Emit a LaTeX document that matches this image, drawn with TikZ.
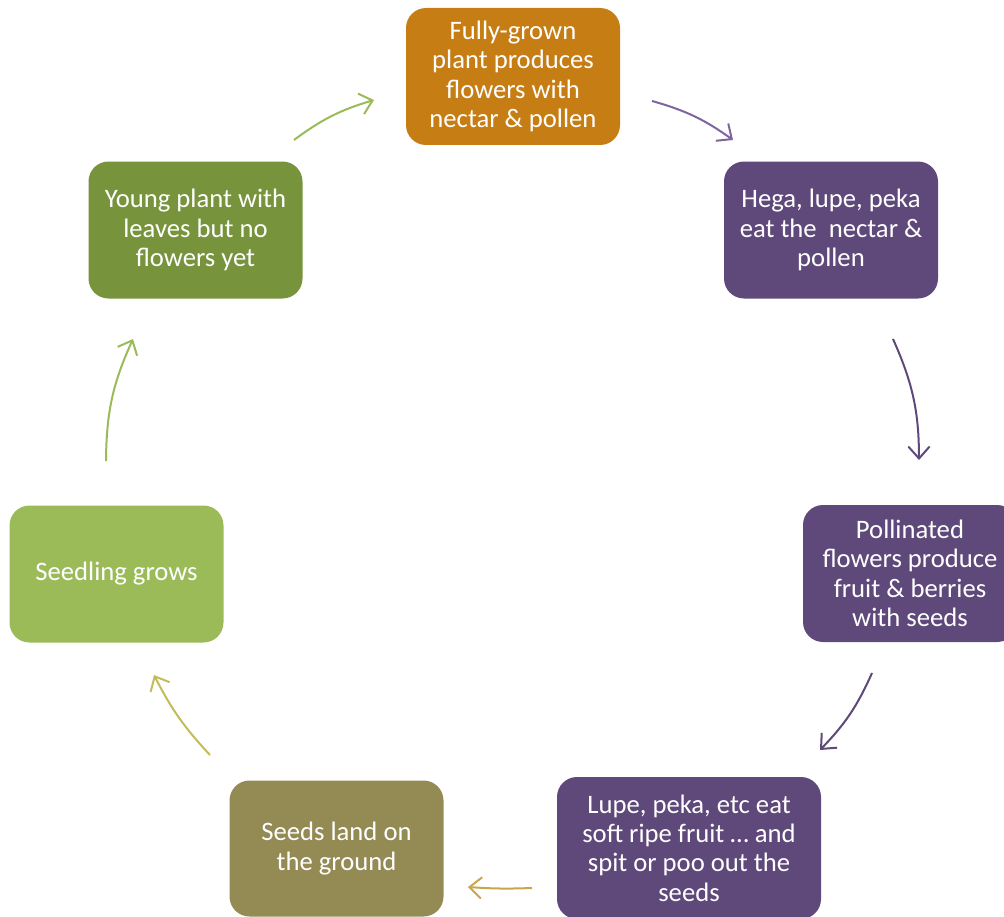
\documentclass[tikz,border=0pt]{standalone}
\usepackage{fontspec}
\setmainfont{Carlito}
\usetikzlibrary{arrows.meta}
\definecolor{cOrange}{HTML}{C67D14}
\definecolor{cPurple}{HTML}{5F497A}
\definecolor{cGreen}{HTML}{77933C}
\definecolor{cLime}{HTML}{9BBB59}
\definecolor{cOlive}{HTML}{948A54}
\definecolor{aViolet}{HTML}{8064A2}
\definecolor{aGold}{HTML}{C9A64A}
\definecolor{aKhaki}{HTML}{C4BC58}
\tikzset{
  stage/.style={rounded corners=15pt, minimum width=160.5pt, minimum height=102.75pt,
    align=center, text=white, inner sep=2pt,
    font=\fontsize{20pt}{22pt}\selectfont},
  flow/.style={line width=1.5pt, -{Straight Barb[length=9pt,width=16pt,line width=1.5pt]}}
}
\begin{document}
\begin{tikzpicture}[x=0.75pt,y=0.75pt]
\useasboundingbox (0,0) rectangle (1004,-917);
% stages of the life cycle
\node[stage, fill=cOrange] (grown) at (513,-76.5) {Fully-grown\\plant produces\\flowers with\\nectar \& pollen};
\node[stage, fill=cPurple] (eatnectar) at (831,-230) {Hega, lupe, peka\\eat the~ nectar \&\\pollen};
\node[stage, fill=cPurple] (fruit) at (910,-573.5) {Pollinated\\flowers produce\\fruit \& berries\\with seeds};
\node[stage, fill=cPurple, minimum width=198pt, minimum height=106.5pt] (spit) at (689,-848) {Lupe, peka, etc eat\\soft ripe fruit … and\\spit or poo out the\\seeds};
\node[stage, fill=cOlive, minimum height=102pt] (land) at (336.5,-848.5) {Seeds land on\\the ground};
\node[stage, fill=cLime] (seedling) at (116.5,-574) {Seedling grows};
\node[stage, fill=cGreen] (young) at (195.5,-230) {Young plant with\\leaves but no\\flowers yet};
% arrow end points
\coordinate (a1s) at (294,-140); \coordinate (a1e) at (374,-100);
\coordinate (a2s) at (652,-101); \coordinate (a2e) at (733,-140);
\coordinate (a3s) at (893,-339); \coordinate (a3e) at (919,-460);
\coordinate (a4s) at (872,-673); \coordinate (a4e) at (820,-750);
\coordinate (a5s) at (532,-888); \coordinate (a5e) at (468,-887);
\coordinate (a6s) at (210,-755); \coordinate (a6e) at (154,-675);
\coordinate (a7s) at (106,-461); \coordinate (a7e) at (133,-339);
% arrows around the cycle
\draw[flow, cLime]   (a1s) to[bend left=10] (a1e);
\draw[flow, aViolet] (a2s) to[bend left=10] (a2e);
\draw[flow, cPurple] (a3s) to[bend left=12] (a3e);
\draw[flow, cPurple] (a4s) to[bend left=10] (a4e);
\draw[flow, aGold]   (a5s) to[bend left=3] (a5e);
\draw[flow, aKhaki]  (a6s) to[bend left=8] (a6e);
\draw[flow, cLime]   (a7s) to[bend left=12] (a7e);
\end{tikzpicture}
\end{document}
